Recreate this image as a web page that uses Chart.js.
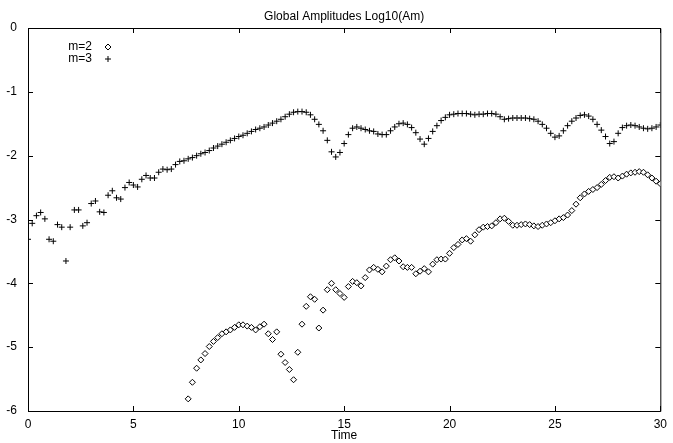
<!DOCTYPE html>
<html>
<head>
<meta charset="utf-8">
<script src="https://cdn.jsdelivr.net/npm/chart.js@4"></script>
<style>
  html, body { margin: 0; padding: 0; background: #fff; }
  #wrap { width: 673px; height: 443px; }
</style>
</head>
<body>
<div id="wrap"><canvas id="chart"></canvas></div>
<script>
// sampling of the run: one output every 0.2 time units
const T_STEP = 0.2;
const M2_START = 7.6; // m=2 output starts here

// Log10(Am) for m=3, t = 0 .. 30
const m3 = [
  -3.31, -3.06, -2.94, -2.89, -2.99,
  -3.31, -3.34, -3.08, -3.12, -3.65,
  -3.12, -2.85, -2.85, -3.10, -3.05,
  -2.75, -2.71, -2.88, -2.89, -2.62,
  -2.55, -2.66, -2.68, -2.50, -2.42,
  -2.46, -2.49, -2.37, -2.31, -2.35,
  -2.35, -2.26, -2.21, -2.22, -2.21,
  -2.14, -2.09, -2.08, -2.05, -2.03,
  -2.00, -1.97, -1.95, -1.92, -1.88,
  -1.85, -1.82, -1.79, -1.76, -1.73,
  -1.70, -1.68, -1.65, -1.62, -1.59,
  -1.57, -1.55, -1.52, -1.49, -1.46,
  -1.43, -1.39, -1.35, -1.32, -1.31,
  -1.31, -1.32, -1.36, -1.43, -1.51,
  -1.61, -1.76, -1.94, -2.02, -1.95,
  -1.81, -1.67, -1.57, -1.55, -1.57,
  -1.59, -1.61, -1.62, -1.66, -1.67,
  -1.67, -1.61, -1.55, -1.50, -1.49,
  -1.51, -1.56, -1.64, -1.74, -1.82,
  -1.73, -1.62, -1.53, -1.45, -1.40,
  -1.36, -1.35, -1.34, -1.34, -1.34,
  -1.35, -1.36, -1.35, -1.35, -1.34,
  -1.34, -1.35, -1.39, -1.43, -1.42,
  -1.41, -1.41, -1.41, -1.41, -1.42,
  -1.43, -1.46, -1.51, -1.57, -1.65,
  -1.71, -1.69, -1.61, -1.53, -1.46,
  -1.41, -1.37, -1.36, -1.38, -1.43,
  -1.51, -1.60, -1.70, -1.81, -1.78,
  -1.65, -1.56, -1.53, -1.52, -1.53,
  -1.55, -1.57, -1.58, -1.57, -1.55,
  -1.52
];

// Log10(Am) for m=2, t = 7.6 .. 30
const m2 = [
                -5.81, -5.55,
  -5.33, -5.20, -5.10, -4.99, -4.91,
  -4.85, -4.79, -4.76, -4.73, -4.69,
  -4.65, -4.65, -4.67, -4.69, -4.73,
  -4.68, -4.64, -4.79, -4.88, -4.76,
  -5.11, -5.24, -5.35, -5.51, -5.08,
  -4.64, -4.36, -4.21, -4.25, -4.70,
  -4.42, -4.10, -4.00, -4.10, -4.16,
  -4.22, -4.05, -3.97, -3.99, -4.04,
  -3.91, -3.79, -3.75, -3.78, -3.82,
  -3.73, -3.63, -3.60, -3.65, -3.74,
  -3.75, -3.75, -3.85, -3.81, -3.77,
  -3.82, -3.70, -3.63, -3.62, -3.62,
  -3.53, -3.44, -3.39, -3.32, -3.30,
  -3.34, -3.24, -3.16, -3.12, -3.11,
  -3.10, -3.05, -2.99, -2.98, -3.03,
  -3.09, -3.09, -3.08, -3.07, -3.08,
  -3.10, -3.11, -3.09, -3.07, -3.05,
  -3.02, -2.99, -2.97, -2.93, -2.86,
  -2.76, -2.66, -2.60, -2.56, -2.53,
  -2.50, -2.45, -2.39, -2.34, -2.33,
  -2.35, -2.32, -2.29, -2.27, -2.26,
  -2.25, -2.26, -2.30, -2.35, -2.40,
  -2.44
];

const xTicks = [0, 5, 10, 15, 20, 25, 30];
const yTicks = [0, -1, -2, -3, -4, -5, -6];

const FONT = "'Liberation Sans', Arial, Helvetica, sans-serif";

function toPoints(vals, t0) {
  return vals.map((v, i) => ({ x: Math.round((t0 + i * T_STEP) * 10) / 10, y: v }));
}

// gnuplot style box with inward ticks on all four sides
const frame = {
  id: "frame",
  beforeDatasetsDraw(chart) {
    const { ctx, chartArea: a, scales } = chart;
    const L = 5;
    ctx.save();
    ctx.strokeStyle = "#000";
    ctx.lineWidth = 1;
    ctx.beginPath();
    ctx.rect(a.left + 0.5, a.top + 0.5, a.right - a.left, a.bottom - a.top);
    xTicks.forEach(t => {
      const x = Math.round(scales.x.getPixelForValue(t)) + 0.5;
      ctx.moveTo(x, a.bottom); ctx.lineTo(x, a.bottom - L);
      ctx.moveTo(x, a.top); ctx.lineTo(x, a.top + L);
    });
    yTicks.forEach(v => {
      const y = Math.round(scales.y.getPixelForValue(v)) + 0.5;
      ctx.moveTo(a.left, y); ctx.lineTo(a.left + L, y);
      ctx.moveTo(a.right, y); ctx.lineTo(a.right - L, y);
    });
    ctx.stroke();
    ctx.restore();
  }
};

// key in the upper left, text first then the marker
const key = {
  id: "key",
  afterDraw(chart) {
    const { ctx } = chart;
    const rows = [["m=2", 0, 47], ["m=3", 1, 59]];
    ctx.save();
    ctx.font = "12px " + FONT;
    ctx.textAlign = "right";
    ctx.textBaseline = "middle";
    rows.forEach(([label, di, y]) => {
      ctx.fillStyle = "#000";
      ctx.fillText(label, 92, y);
      const ds = chart.data.datasets[di];
      ctx.strokeStyle = "#000";
      ctx.fillStyle = "#fff";
      ctx.lineWidth = 1;
      Chart.helpers.drawPoint(ctx, {
        pointStyle: ds.pointStyle, radius: ds.pointRadius, rotation: 0,
        borderWidth: 1
      }, 108, y);
    });
    ctx.restore();
  }
};

new Chart(document.getElementById("chart"), {
  type: "scatter",
  data: {
    datasets: [
      {
        label: "m=2",
        data: toPoints(m2, M2_START),
        pointStyle: "rectRot",
        pointRadius: 3,
        borderWidth: 1,
        borderColor: "#000",
        backgroundColor: "#fff"
      },
      {
        label: "m=3",
        data: toPoints(m3, 0),
        pointStyle: "cross",
        pointRadius: 3,
        borderWidth: 1,
        borderColor: "#000",
        backgroundColor: "#000"
      }
    ]
  },
  options: {
    responsive: true,
    maintainAspectRatio: false,
    animation: false,
    layout: { padding: { left: 0, right: 9, top: 0, bottom: 0 } },
    plugins: {
      legend: { display: false },
      tooltip: { enabled: false },
      title: {
        display: true,
        text: "Global Amplitudes Log10(Am)",
        fullSize: false,
        color: "#000",
        font: { family: FONT, size: 12, weight: "normal" },
        padding: { top: 9, bottom: 4.6 }
      }
    },
    scales: {
      x: {
        type: "linear",
        min: 0,
        max: 30,
        afterBuildTicks: s => { s.ticks = xTicks.map(v => ({ value: v })); },
        afterFit: s => { s.height = 32; },
        grid: { display: false, drawTicks: false },
        border: { display: false },
        ticks: { color: "#000", font: { family: FONT, size: 12 }, padding: 6, maxRotation: 0 },
        title: {
          display: true,
          text: "Time",
          color: "#000",
          font: { family: FONT, size: 12 },
          padding: 0
        }
      },
      y: {
        type: "linear",
        min: -6,
        max: 0,
        afterBuildTicks: s => { s.ticks = yTicks.map(v => ({ value: v })); },
        afterFit: s => { s.width = 28; },
        grid: { display: false, drawTicks: false },
        border: { display: false },
        ticks: { color: "#000", font: { family: FONT, size: 12 }, padding: 11 }
      }
    }
  },
  plugins: [frame, key]
});
</script>
</body>
</html>
